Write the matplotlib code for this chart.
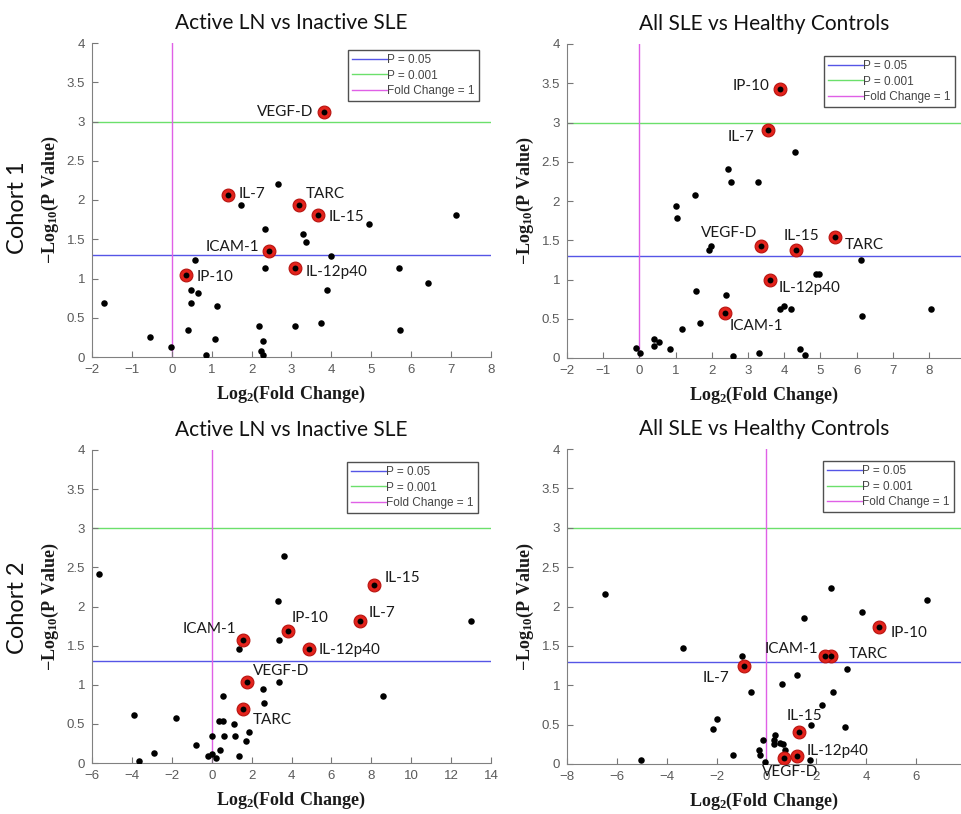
import numpy as np
import matplotlib
matplotlib.use("Agg")
import matplotlib.pyplot as plt
from matplotlib.ticker import FuncFormatter

plt.rcParams["mathtext.fontset"] = "custom"
plt.rcParams["mathtext.rm"] = "Liberation Serif"
plt.rcParams["mathtext.bf"] = "Liberation Serif:bold"

P_05 = -np.log10(0.05)
P_001 = -np.log10(0.001)
FC_1 = 0.0

cytokines = ["VEGF-D", "IL-7", "TARC", "IL-15", "ICAM-1", "IL-12p40", "IP-10"]

# cohort 1, active LN vs inactive SLE
c1a_x = [2.67, 1.74, 2.33, 3.30, 3.36, 7.13, 4.95, 3.98, 0.59, 2.33, 5.70, 6.41, 3.89, 0.49, 0.65,
         0.48, -1.69, 1.13, 2.18, 3.08, 3.74, 0.41, 5.73, -0.55, 1.08, 2.28, -0.02, 2.24, 2.28, 0.85]
c1a_y = [2.20, 1.94, 1.63, 1.57, 1.46, 1.81, 1.69, 1.29, 1.24, 1.13, 1.13, 0.94, 0.85, 0.85, 0.81,
         0.69, 0.69, 0.65, 0.40, 0.40, 0.43, 0.34, 0.34, 0.25, 0.23, 0.20, 0.13, 0.08, 0.03, 0.02]
c1a_hx = [3.82, 1.40, 3.19, 3.67, 2.44, 3.10, 0.36]
c1a_hy = [3.12, 2.07, 1.94, 1.81, 1.35, 1.14, 1.04]

# cohort 1, all SLE vs healthy controls
c1b_x = [4.30, 2.46, 2.52, 3.27, 1.54, 1.01, 1.05, 1.99, 1.91, 6.13, 4.88, 4.96, 1.56, 2.38, 3.98, 3.88,
         4.19, 8.06, 6.15, 1.67, 1.19, 0.39, 0.54, 0.39, -0.10, 0.85, 0.02, 4.44, 3.30, 2.58, 4.57]
c1b_y = [2.62, 2.41, 2.24, 2.24, 2.08, 1.93, 1.78, 1.43, 1.37, 1.25, 1.07, 1.07, 0.85, 0.80, 0.66, 0.62,
         0.62, 0.62, 0.53, 0.45, 0.37, 0.24, 0.21, 0.15, 0.13, 0.12, 0.07, 0.12, 0.07, 0.03, 0.04]
c1b_hx = [3.37, 3.56, 5.40, 4.33, 2.36, 3.62, 3.87]
c1b_hy = [1.43, 2.90, 1.54, 1.37, 0.57, 0.99, 3.43]

# cohort 2, active LN vs inactive SLE
c2a_x = [3.61, -5.67, 3.32, 12.98, 3.39, 1.36, 3.37, 2.59, 2.64, 0.58, 8.61, -3.89, -1.78, 0.36, 0.59,
         1.11, 1.88, -0.01, 0.63, 1.18, 1.70, -0.81, 0.44, -2.87, -0.18, -0.01, 0.23, 1.35, -3.64]
c2a_y = [2.65, 2.42, 2.07, 1.81, 1.57, 1.46, 1.04, 0.94, 0.77, 0.86, 0.86, 0.61, 0.57, 0.54, 0.54,
         0.50, 0.40, 0.34, 0.34, 0.34, 0.28, 0.23, 0.17, 0.13, 0.085, 0.11, 0.06, 0.085, 0.02]
c2a_hx = [1.75, 7.41, 1.56, 8.16, 1.55, 4.90, 3.82]
c2a_hy = [1.04, 1.81, 0.69, 2.28, 1.57, 1.46, 1.69]

# cohort 2, all SLE vs healthy controls
c2b_x = [-6.48, -3.35, 2.58, 6.45, 3.82, 1.51, -0.99, 3.21, 1.22, 0.64, -0.63, 2.66, 2.22, -1.98, -2.14,
         1.78, 3.13, 0.36, -0.13, 0.32, 0.55, 0.32, 0.65, 0.74, -0.32, -0.25, -1.36, -5.03, -0.04, 1.76]
c2b_y = [2.16, 1.47, 2.24, 2.08, 1.93, 1.85, 1.37, 1.21, 1.13, 1.01, 0.91, 0.91, 0.75, 0.57, 0.45,
         0.49, 0.47, 0.37, 0.31, 0.30, 0.27, 0.25, 0.25, 0.18, 0.18, 0.12, 0.12, 0.05, 0.03, 0.05]
c2b_hx = [0.72, -0.91, 2.57, 1.31, 2.33, 1.23, 4.53]
c2b_hy = [0.07, 1.25, 1.37, 0.41, 1.37, 0.10, 1.74]

titles = ["Active LN vs Inactive SLE", "All SLE vs Healthy Controls"]
cohorts = ["Cohort 1", "Cohort 2"]

# label placement: (dx, dy) in pixels from the point, horizontal alignment
c1a_lab = {"VEGF-D": (-11, 0, "right"), "IL-7": (11, 1, "left"), "TARC": (7, 11, "left"),
           "IL-15": (10, -2, "left"), "ICAM-1": (-10, 4, "right"), "IL-12p40": (10, -4, "left"),
           "IP-10": (10, -2, "left")}
c1b_lab = {"IP-10": (-10, 3, "right"), "IL-7": (-14, -7, "right"), "VEGF-D": (-4, 13, "right"),
           "IL-15": (-13, 14, "left"), "TARC": (10, -8, "left"), "IL-12p40": (8, -8, "left"),
           "ICAM-1": (5, -13, "left")}
c2a_lab = {"IL-15": (10, 7, "left"), "IL-7": (9, 8, "left"), "IP-10": (4, 13, "left"),
           "ICAM-1": (-6, 11, "right"), "IL-12p40": (9, -1, "left"), "VEGF-D": (6, 11, "left"),
           "TARC": (10, -11, "left")}
c2b_lab = {"IP-10": (11, -6, "left"), "ICAM-1": (-6, 7, "right"), "TARC": (18, 2, "left"),
           "IL-7": (-14, -12, "right"), "IL-15": (-13, 16, "left"), "IL-12p40": (9, 5, "left"),
           "VEGF-D": (-22, -14, "left")}

W, H = 962, 814
fig = plt.figure(figsize=(W / 100, H / 100), dpi=100)

# axes boxes in pixels: left, top, right, bottom
panels = [
    (92, 43, 491, 357, (-2, 8), range(-2, 9, 1), c1a_x, c1a_y, c1a_hx, c1a_hy, c1a_lab, (0.970, 0.978)),
    (567, 44, 962, 358, (-2, 8.91), range(-2, 9, 1), c1b_x, c1b_y, c1b_hx, c1b_hy, c1b_lab, (0.982, 0.962)),
    (92, 450, 491, 763, (-6, 14), range(-6, 15, 2), c2a_x, c2a_y, c2a_hx, c2a_hy, c2a_lab, (0.967, 0.962)),
    (567, 449, 962, 764, (-8, 7.84), range(-8, 7, 2), c2b_x, c2b_y, c2b_hx, c2b_hy, c2b_lab, (0.980, 0.962)),
]

tick_col = "#5a5a5a"
for i, (l, t, r, b, xlim, xt, xs, ys, hx, hy, lab, leg_anchor) in enumerate(panels):
    ax = fig.add_axes([l / W, 1 - b / H, (r - l) / W, (b - t) / H])
    ax.axhline(P_05, color="#5555e6", lw=1.0, label="P = 0.05", zorder=1)
    ax.axhline(P_001, color="#6be06b", lw=1.0, label="P = 0.001", zorder=1)
    ax.axvline(FC_1, color="#e060e6", lw=1.0, label="Fold Change = 1", zorder=1)

    ax.scatter(xs, ys, s=22, color="black", zorder=3, linewidths=0)
    ax.scatter(hx, hy, s=85, color="#e3231c", edgecolors="#b81410", linewidths=0.8, zorder=4)
    ax.scatter(hx, hy, s=18, color="black", zorder=5, linewidths=0)

    for name, x, y in zip(cytokines, hx, hy):
        dx, dy, ha = lab[name]
        ax.annotate(name, (x, y), xytext=(dx, dy), textcoords="offset pixels",
                    ha=ha, va="center", fontsize=11, family="Lato", color="#1a1a1a", zorder=6)

    ax.set_xlim(*xlim)
    ax.set_ylim(0, 4)
    ax.set_xticks(list(xt))
    ax.set_yticks(np.arange(0, 4.01, 0.5))
    ax.yaxis.set_major_formatter(FuncFormatter(lambda v, p: f"{v:g}"))
    ax.tick_params(direction="in", length=4, width=0.8, colors="#777777", labelcolor=tick_col,
                   labelsize=9.5, pad=5)
    for lbl in ax.get_xticklabels() + ax.get_yticklabels():
        lbl.set_family("Liberation Sans")
    for side in ["top", "right"]:
        ax.spines[side].set_visible(False)
    for side in ["left", "bottom"]:
        ax.spines[side].set_color("#808080")
        ax.spines[side].set_linewidth(0.8)

    ax.set_xlabel(r"$\mathbf{Log_{2}(Fold\ Change)}$", fontsize=13, color="#1a1a1a", labelpad=6)
    ax.set_ylabel(r"$\mathbf{-Log_{10}(P\ Value)}$", fontsize=13, color="#1a1a1a", labelpad=4)
    ax.set_title(titles[i % 2], fontsize=15, family="Lato", pad=10, color="#111111")

    leg = ax.legend(loc="upper right", bbox_to_anchor=leg_anchor, handlelength=3.0,
                    handletextpad=0.0, labelspacing=0.3, borderpad=0.35, borderaxespad=0,
                    fancybox=False, framealpha=1, edgecolor="#505050",
                    prop={"family": "Liberation Sans", "size": 8.5})
    leg.get_frame().set_linewidth(1.0)
    for txt in leg.get_texts():
        txt.set_color("#444444")

for j, label in enumerate(cohorts):
    yc = [208, 608][j]
    fig.text(18 / W, 1 - yc / H, label, rotation=90, ha="center", va="center",
             fontsize=17, family="Lato", color="#111111")

fig.savefig("out.png", dpi=100)
